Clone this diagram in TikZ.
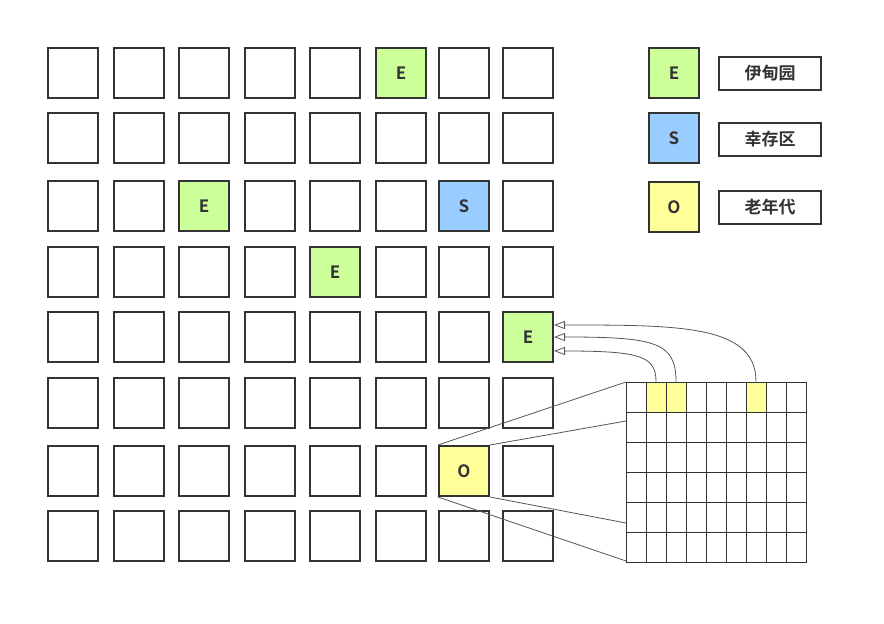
\documentclass[tikz,border=0pt]{standalone}
\usepackage{fontspec}
\setmainfont{Noto Sans CJK SC}[BoldFont={* Bold}]
\usetikzlibrary{arrows.meta,calc}
\definecolor{edge}{HTML}{333333}
\definecolor{eden}{HTML}{CCFF99}
\definecolor{surv}{HTML}{99CCFF}
\definecolor{old}{HTML}{FFFF99}
\definecolor{conn}{HTML}{555555}
\tikzset{
  cell/.style={draw=edge,line width=2pt,fill=white,minimum width=50pt,minimum height=50pt,inner sep=0pt,font=\bfseries\fontsize{17}{17}\selectfont,text=edge},
  lab/.style={draw=edge,line width=2pt,fill=white,minimum width=102pt,minimum height=33pt,inner sep=0pt,font=\bfseries\fontsize{17}{17}\selectfont,text=edge},
  mini/.style={draw=edge,line width=1pt,fill=white,minimum width=20pt,minimum height=30pt,inner sep=0pt},
  link/.style={draw=conn,line width=0.8pt},
  ptr/.style={draw=conn,line width=0.8pt,-{Triangle[open,length=11pt,width=8pt]}}
}
\begin{document}
\begin{tikzpicture}[x=1pt,y=-1pt]
\useasboundingbox (0,0) rectangle (884,624);
% main grid
\def\colx{{73,139,204,270,335,401,464,528}}
\def\rowy{{73,138,206,272,337,403,471,536}}
\foreach \r in {1,...,8}{
  \foreach \c in {1,...,8}{
    \pgfmathsetmacro\xx{\colx[\c-1]}
    \pgfmathsetmacro\yy{\rowy[\r-1]}
    \node[cell] (g-\r-\c) at (\xx,\yy) {};
  }
}
\node[cell,fill=eden] (e1) at (401,73) {E};
\node[cell,fill=eden] (e2) at (204,206) {E};
\node[cell,fill=surv] (s1) at (464,206) {S};
\node[cell,fill=eden] (e3) at (335,272) {E};
\node[cell,fill=eden] (e4) at (528,337) {E};
\node[cell,fill=old] (o1) at (464,471) {O};
% legend
\node[cell,fill=eden] (le) at (674,73) {E};
\node[cell,fill=surv] (ls) at (674,138) {S};
\node[cell,fill=old] (lo) at (674,207) {O};
\node[lab] (lte) at (770,73) {伊甸园};
\node[lab] (lts) at (770,139) {幸存区};
\node[lab] (lto) at (770,207) {老年代};
% mini grid
\foreach \r in {1,...,6}{
  \foreach \c in {1,...,9}{
    \node[mini] (m-\r-\c) at ({626+20*\c-10},{382+30*\r-15}) {};
  }
}
\node[mini,fill=old] at (m-1-2) {};
\node[mini,fill=old] at (m-1-3) {};
\node[mini,fill=old] at (m-1-7) {};
% zoom lines
\coordinate (z1) at (626,382);
\coordinate (z2) at (626,421);
\coordinate (z3) at (626,523);
\coordinate (z4) at (626,561);
\draw[link] (o1.north west) -- (z1);
\draw[link] (o1.north east) -- (z2);
\draw[link] (o1.south east) -- (z3);
\draw[link] (o1.south west) -- (z4);
% pointers
\draw[ptr] (m-1-7.north) .. controls (756,325) and (680,325) .. ($(e4.east)+(0,-12)$);
\draw[ptr] (m-1-3.north) .. controls (676,342) and (655,337) .. (e4.east);
\draw[ptr] (m-1-2.north) .. controls (656,356) and (640,351) .. ($(e4.east)+(0,14)$);
\end{tikzpicture}
\end{document}
